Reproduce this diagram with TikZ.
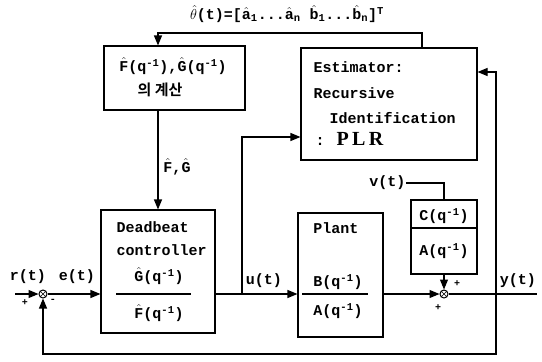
\documentclass[tikz,border=0pt]{standalone}
\usepackage{fontspec}
\setmainfont{Liberation Mono}
\newfontfamily\krfont{Noto Sans CJK KR}[BoldFont={Noto Sans CJK KR Bold}]
\newfontfamily\plrfont{Liberation Serif}
\usetikzlibrary{arrows.meta,positioning,calc}
\newcommand\hh[1]{$\hat{\mbox{#1}}$}
\newcommand\qi{(q\textsuperscript{-1})}

\begin{document}
\begin{tikzpicture}[x=1pt, y=-1pt,
line width=1.1pt,
>={Triangle[length=10pt,width=8pt]},
box/.style = {draw, line width=1.1pt, inner sep=0pt},
txt/.style = {inner sep=0pt, font=\fontsize{15}{17}\selectfont\bfseries},
ltxt/.style = {txt, anchor=west},
sumnode/.style = {draw, circle, minimum size=8pt, inner sep=0pt,
    line width=1pt,
    path picture={\draw[line width=0.7pt]
        (path picture bounding box.north west) -- (path picture bounding box.south east)
        (path picture bounding box.north east) -- (path picture bounding box.south west);}},
sgn/.style = {inner sep=0pt, font=\fontsize{10}{10}\selectfont\bfseries}
                ]
\useasboundingbox (0,0) rectangle (542,362);

%% blocks
\node (fg)  [box, minimum width=141pt, minimum height=64pt]  at (174.5,78) {};
\node (db)  [box, minimum width=114pt, minimum height=123pt] at (158,271.5) {};
\node (est) [box, minimum width=176pt, minimum height=112pt] at (389,104) {};
\node (pl)  [box, minimum width=85pt, minimum height=124pt]  at (340.5,275) {};
\node (ca)  [box, minimum width=66pt, minimum height=74pt]   at (444,237) {};
\node (s1)  [sumnode] at (43,294) {};
\node (s2)  [sumnode] at (444,294) {};

%% texts in the blocks
\node (fgt1) [txt] at (173,66) {\hh{F}\qi,\hh{G}\qi};
\node (fgt2) [txt, font=\krfont\fontsize{15}{17}\selectfont\bfseries] at (160,90) {의 계산};
\node (dbt1) [ltxt] at (116,227) {Deadbeat};
\node (dbt2) [ltxt] at (116,250) {controller};
\node (dbnum) [txt] at (159,276) {\hh{G}\qi};
\node (dbden) [txt] at (159,313) {\hh{F}\qi};
\draw (116,294) -- (191,294);
\node (estt1) [ltxt] at (313,67) {Estimator:};
\node (estt2) [ltxt] at (313,93) {Recursive};
\node (estt3) [ltxt] at (329,118) {Identification};
\node (estt4) [ltxt] at (315,139) {: {\plrfont\fontsize{20}{20}\selectfont P\,L\,R}};
\node (plt) [txt] at (336,228) {Plant};
\node (plnum) [txt] at (338,282) {B\qi};
\draw (302,294) -- (368,294);
\node (plden) [txt] at (338,311) {A\qi};
\node (canum) [txt] at (444,216) {C\qi};
\draw (412,228) -- (476,228);
\node (caden) [txt] at (444,251) {A\qi};

%% signals
\node (thlab) [txt] at (287,14) {$\hat{\theta}$(t)=[\hh{a}\textsubscript{1}...\hh{a}\textsubscript{n} \hh{b}\textsubscript{1}...\hh{b}\textsubscript{n}]\textsuperscript{T}};
\node (fglab) [txt] at (177,167) {\hh{F},\hh{G}};
\node (rlab) [txt] at (28,277) {r(t)};
\node (elab) [txt] at (77,277) {e(t)};
\node (ulab) [txt] at (264,281) {u(t)};
\node (vlab) [txt, anchor=east] at (406,183) {v(t)};
\node (ylab) [txt] at (518,281) {y(t)};
\node (p1) [sgn] at (25,303) {+};
\node (m1) [sgn] at (53,301) {-};
\node (p2) [sgn] at (457,284) {+};
\node (p3) [sgn] at (438,308) {+};

\coordinate (rin)  at (15,294);
\coordinate (yout) at (537,294);
\coordinate (ubr)  at (242,294);
\coordinate (ybr)  at (496,294);
\coordinate (ybot) at (496,354);
\coordinate (fbk)  at (158,33);

%% connectors
\draw[->] (rin) -- (s1);
\draw[->] (s1) -- (s1 -| db.west);
\draw[->] (db.east |- ubr) -- (pl.west |- ubr);
\draw[->] (ubr) |- ([yshift=-33pt]est.west);
\draw[->] (pl.east |- s2) -- (s2);
\draw[->] (ca.south) -- (s2);
\draw (vlab.east) -| (ca.north);
\draw (s2) -- (yout);
\draw[->] (ybr) |- ([yshift=32pt]est.east);
\draw[->] (ybr) -- (ybot) -| (s1);
\draw[->] ([xshift=33pt]est.north) |- (fbk) -- (fbk |- fg.north);
\draw[->] (fg.south -| db.north) -- (db.north);
\end{tikzpicture}
\end{document}
